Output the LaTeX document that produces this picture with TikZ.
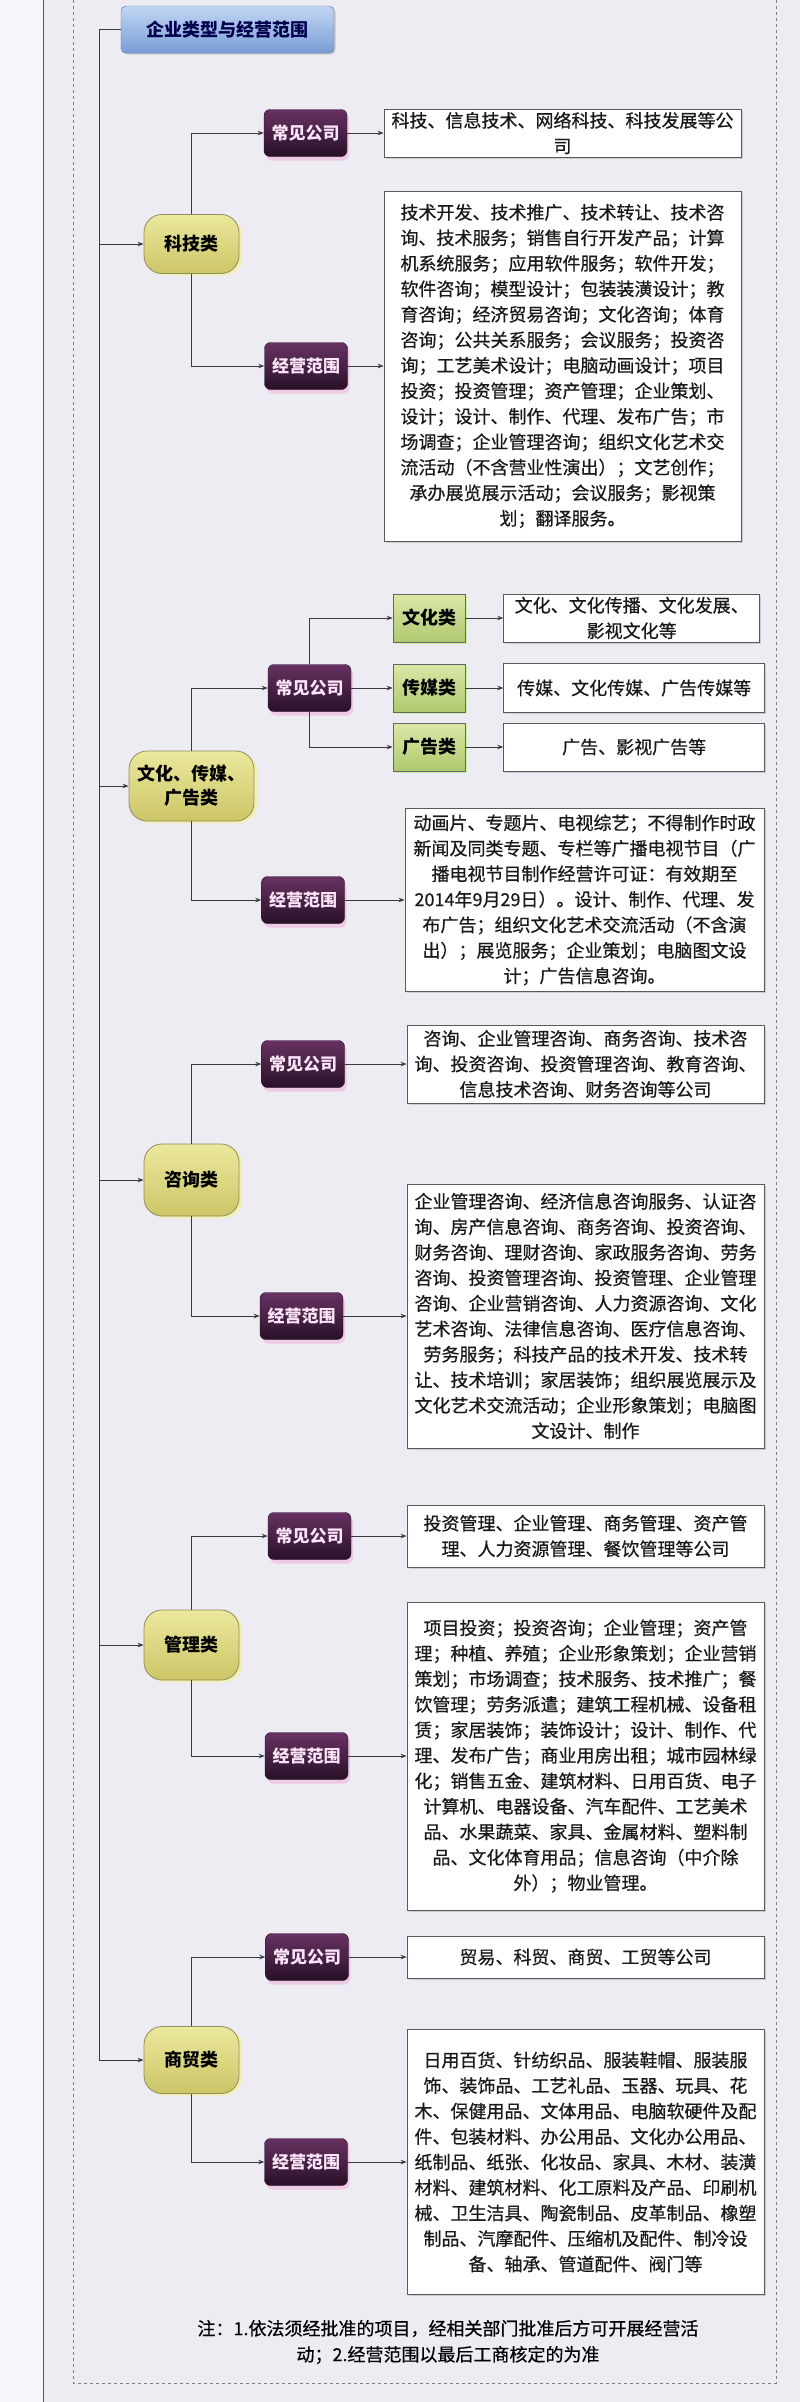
\documentclass[tikz,border=0pt]{standalone}
\usepackage{fontspec}
\setmainfont{Noto Sans CJK SC}
\newfontfamily\mediumcjk{Noto Sans CJK SC}[FakeBold=0.6]
\usetikzlibrary{positioning, shadows, arrows.meta}

\definecolor{bgcol}{RGB}{237,236,243}
\definecolor{linegray}{RGB}{58,58,62}
\definecolor{tagtop}{RGB}{104,50,98}
\definecolor{tagbot}{RGB}{40,16,40}
\definecolor{tagtext}{RGB}{250,228,247}
\definecolor{cattop}{RGB}{236,232,156}
\definecolor{catbot}{RGB}{204,198,104}
\definecolor{greentop}{RGB}{218,232,168}
\definecolor{greenbot}{RGB}{176,200,110}
\definecolor{headtop}{RGB}{194,214,244}
\definecolor{headbot}{RGB}{120,158,214}

\tikzset{
    link/.style={draw=linegray, line width=.9pt, -{Stealth[length=6pt,width=4.5pt]}},
    headbox/.style={draw=headbot!70!black, rounded corners=5pt, top color=headtop, bottom color=headbot,
        minimum width=213pt, minimum height=47pt, text=blue!30!black,
        font=\bfseries\fontsize{18}{22}\selectfont,
        drop shadow={shadow xshift=1.5pt, shadow yshift=-1.5pt, fill=gray, opacity=.35}},
    catnode/.style={draw=gray!70!olive, line width=.8pt, rounded corners=18pt, top color=cattop, bottom color=catbot,
        minimum width=95pt, align=center, font=\bfseries\fontsize{18}{24}\selectfont,
        drop shadow={shadow xshift=3pt, shadow yshift=-2pt, fill=yellow!80, opacity=.35}},
    tagbox/.style={draw=tagbot, rounded corners=6pt, top color=tagtop, bottom color=tagbot,
        minimum width=83pt, minimum height=47pt, text=tagtext,
        font=\bfseries\fontsize{17}{20}\selectfont,
        drop shadow={shadow xshift=2pt, shadow yshift=-4pt, fill=magenta!60, opacity=.25}},
    greenbox/.style={draw=gray!80!black, line width=.6pt, top color=greentop, bottom color=greenbot,
        minimum width=72pt, minimum height=48pt,
        font=\bfseries\fontsize{18}{22}\selectfont,
        drop shadow={shadow xshift=2pt, shadow yshift=-2pt, fill=green!50!yellow, opacity=.3}},
    textbox/.style={draw=gray!70!black, line width=.8pt, fill=white, align=center, inner sep=2pt,
        font=\mediumcjk\fontsize{18}{25.5}\selectfont, text=black!90,
        drop shadow={shadow xshift=1.5pt, shadow yshift=-1.5pt, fill=gray, opacity=.3}}
}

\begin{document}
\begin{tikzpicture}[x=1pt, y=-1pt]
        \fill[bgcol] (0,0) rectangle (800,2402);
        \fill[white!55!bgcol] (0,0) rectangle (43,2402);
        \useasboundingbox (0,0) rectangle (800,2402);
        \draw[gray!70!black, line width=1pt] (43,0) -- (43,2402);
        \draw[gray, dashed, line width=.8pt] (73,0) -- (73,2383) -- (776,2383) -- (776,0);

        \node[headbox] (head) at (227.5,29.5) {企业类型与经营范围};

        \node[catnode, minimum height=59pt] (keji) at (191.5,244) {科技类};
        \node[tagbox] (kjcj) at (305.5,133) {常见公司};
        \node[tagbox] (kjjy) at (306,366) {经营范围};
        \node[textbox, minimum width=357pt, minimum height=48pt] (kjcj-t) at (562.5,133) {科技、信息技术、网络科技、科技发展等公\\司};
        \node[textbox, minimum width=357pt, minimum height=350pt] (kjjy-t) at (562.5,366) {技术开发、技术推广、技术转让、技术咨\\询、技术服务；销售自行开发产品；计算\\机系统服务；应用软件服务；软件开发；\\软件咨询；模型设计；包装装潢设计；教\\育咨询；经济贸易咨询；文化咨询；体育\\咨询；公共关系服务；会议服务；投资咨\\询；工艺美术设计；电脑动画设计；项目\\投资；投资管理；资产管理；企业策划、\\设计；设计、制作、代理、发布广告；市\\场调查；企业管理咨询；组织文化艺术交\\流活动（不含营业性演出）；文艺创作；\\承办展览展示活动；会议服务；影视策\\划；翻译服务。};

        \node[catnode, minimum width=125pt, minimum height=70pt] (whcm) at (191.5,786) {文化、传媒、\\广告类};
        \node[tagbox] (whcj) at (309.5,688) {常见公司};
        \node[tagbox] (whjy) at (303,900) {经营范围};
        \node[greenbox] (whwh) at (429,618) {文化类};
        \node[greenbox] (whcb) at (429,688) {传媒类};
        \node[greenbox] (whgg) at (429,747) {广告类};
        \node[textbox, minimum width=256pt, minimum height=48pt, right=38pt of whwh] (whwh-t) {文化、文化传播、文化发展、\\影视文化等};
        \node[textbox, minimum width=261pt, minimum height=49pt, right=38pt of whcb] (whcb-t) {传媒、文化传媒、广告传媒等};
        \node[textbox, minimum width=261pt, minimum height=48pt, right=38pt of whgg] (whgg-t) {广告、影视广告等};
        \node[textbox, minimum width=359pt, minimum height=183pt] (whjy-t) at (584.5,900) {动画片、专题片、电视综艺；不得制作时政\\新闻及同类专题、专栏等广播电视节目（广\\播电视节目制作经营许可证：有效期至\\2014年9月29日）。设计、制作、代理、发\\布广告；组织文化艺术交流活动（不含演\\出）；展览服务；企业策划；电脑图文设\\计；广告信息咨询。};

        \node[catnode, minimum height=72pt] (zixun) at (191.5,1180) {咨询类};
        \node[tagbox] (zxcj) at (303,1064) {常见公司};
        \node[tagbox] (zxjy) at (301.5,1316) {经营范围};
        \node[textbox, minimum width=357pt, minimum height=78pt] (zxcj-t) at (585.5,1064) {咨询、企业管理咨询、商务咨询、技术咨\\询、投资咨询、投资管理咨询、教育咨询、\\信息技术咨询、财务咨询等公司};
        \node[textbox, minimum width=357pt, minimum height=264pt] (zxjy-t) at (585.5,1316) {企业管理咨询、经济信息咨询服务、认证咨\\询、房产信息咨询、商务咨询、投资咨询、\\财务咨询、理财咨询、家政服务咨询、劳务\\咨询、投资管理咨询、投资管理、企业管理\\咨询、企业营销咨询、人力资源咨询、文化\\艺术咨询、法律信息咨询、医疗信息咨询、\\劳务服务；科技产品的技术开发、技术转\\让、技术培训；家居装饰；组织展览展示及\\文化艺术交流活动；企业形象策划；电脑图\\文设计、制作};

        \node[catnode, minimum height=70pt] (guanli) at (191.5,1645) {管理类};
        \node[tagbox] (glcj) at (309.5,1536) {常见公司};
        \node[tagbox] (gljy) at (306.5,1756) {经营范围};
        \node[textbox, minimum width=357pt, minimum height=62pt] (glcj-t) at (585.5,1536) {投资管理、企业管理、商务管理、资产管\\理、人力资源管理、餐饮管理等公司};
        \node[textbox, minimum width=357pt, minimum height=308pt] (gljy-t) at (585.5,1756) {项目投资；投资咨询；企业管理；资产管\\理；种植、养殖；企业形象策划；企业营销\\策划；市场调查；技术服务、技术推广；餐\\饮管理；劳务派遣；建筑工程机械、设备租\\赁；家居装饰；装饰设计；设计、制作、代\\理、发布广告；商业用房出租；城市园林绿\\化；销售五金、建筑材料、日用百货、电子\\计算机、电器设备、汽车配件、工艺美术\\品、水果蔬菜、家具、金属材料、塑料制\\品、文化体育用品；信息咨询（中介除\\外）；物业管理。};

        \node[catnode, minimum height=67pt] (shangmao) at (191.5,2060) {商贸类};
        \node[tagbox] (smcj) at (307,1957) {常见公司};
        \node[tagbox] (smjy) at (306,2162) {经营范围};
        \node[textbox, minimum width=357pt, minimum height=42pt] (smcj-t) at (585.5,1957) {贸易、科贸、商贸、工贸等公司};
        \node[textbox, minimum width=357pt, minimum height=265pt] (smjy-t) at (585.5,2162) {日用百货、针纺织品、服装鞋帽、服装服\\饰、装饰品、工艺礼品、玉器、玩具、花\\木、保健用品、文体用品、电脑软硬件及配\\件、包装材料、办公用品、文化办公用品、\\纸制品、纸张、化妆品、家具、木材、装潢\\材料、建筑材料、化工原料及产品、印刷机\\械、卫生洁具、陶瓷制品、皮革制品、橡塑\\制品、汽摩配件、压缩机及配件、制冷设\\备、轴承、管道配件、阀门等};

        \node[align=center, font=\mediumcjk\fontsize{18}{26}\selectfont] (note) at (448,2342) {注：1.依法须经批准的项目，经相关部门批准后方可开展经营活\\动；2.经营范围以最后工商核定的为准};

        \foreach \c in {keji, whcm, zixun, guanli, shangmao}
            \draw[link] (head.west) -- ++(-21.5,0) |- (\c.west);

        \foreach \c/\a/\b in {keji/kjcj/kjjy, whcm/whcj/whjy, zixun/zxcj/zxjy, guanli/glcj/gljy, shangmao/smcj/smjy} {
            \draw[link] (\c.north) |- (\a.west);
            \draw[link] (\c.south) |- (\b.west);
        }

        \draw[link] (whcj.north) |- (whwh.west);
        \draw[link] (whcj) -- (whcb);
        \draw[link] (whcj.south) |- (whgg.west);

        \foreach \a in {kjcj, kjjy, whwh, whcb, whgg, whjy, zxcj, zxjy, glcj, gljy, smcj, smjy}
            \draw[link] (\a.east) -- (\a-t.west);
    \end{tikzpicture}
\end{document}
